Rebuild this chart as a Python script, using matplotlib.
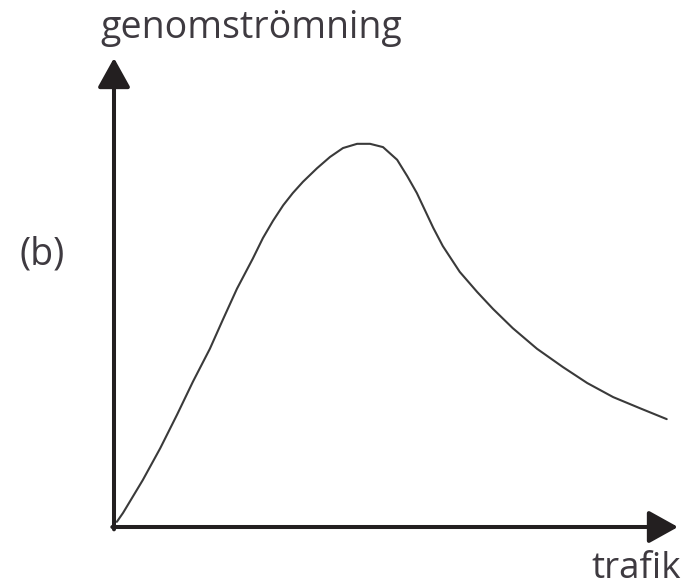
import matplotlib.pyplot as plt

# throughput vs. traffic (arbitrary units, 0..100)
trafik = [0.5, 1.6, 5.1, 8.2, 11.2, 14.0, 17.0, 19.3, 21.8, 24.6, 26.4, 28.2,
          30.0, 31.7, 33.5, 36.0, 38.3, 40.6, 43.1, 45.4, 47.7, 50.2, 52.0,
          53.7, 56.6, 58.3, 61.3, 64.4, 67.2, 70.7, 75.0, 79.6, 83.9, 88.5,
          93.3, 98.0]
genomstromning = [1.1, 3.0, 10.0, 16.8, 24.0, 31.0, 38.0, 44.2, 50.8, 57.2,
                  61.6, 65.3, 68.6, 71.2, 73.6, 76.5, 78.9, 80.8, 81.7, 81.7,
                  81.0, 78.3, 74.8, 71.2, 63.8, 59.9, 54.4, 50.1, 46.5, 42.4,
                  38.0, 34.1, 30.7, 27.7, 25.3, 23.0]

W, H = 685, 584
TXT = "#3e3a40"
plt.rcParams['font.family'] = ['Open Sans', 'DejaVu Sans']

fig = plt.figure(figsize=(W / 100, H / 100), dpi=100)
ax = fig.add_axes([114 / W, (H - 527) / H, (678 - 114) / W, (527 - 58) / H])
ax.set_xlim(0, 100)
ax.set_ylim(0, 100)
ax.axis('off')

arrow = dict(arrowstyle='-|>,head_length=0.9,head_width=0.5', lw=2.9,
             color='#231f20', mutation_scale=20, shrinkA=0, shrinkB=0)
ax.annotate('', xy=(0, 100), xytext=(0, -0.5), arrowprops=arrow, annotation_clip=False)
ax.annotate('', xy=(100, 0), xytext=(-0.3, 0), arrowprops=arrow, annotation_clip=False)

ax.plot(trafik, genomstromning, color='#3a3a3a', lw=1.5,
        solid_capstyle='round', solid_joinstyle='round')

fig.text(100 / W, 1 - 38 / H, 'genomströmning', fontsize=27, color=TXT,
         ha='left', va='baseline')
fig.text(42 / W, 1 - 254 / H, '(b)', fontsize=27, color=TXT, ha='center', va='center')
fig.text(681 / W, 1 - 578 / H, 'trafik', fontsize=26.5, color=TXT, ha='right', va='baseline')

fig.savefig('out.png', dpi=100)
